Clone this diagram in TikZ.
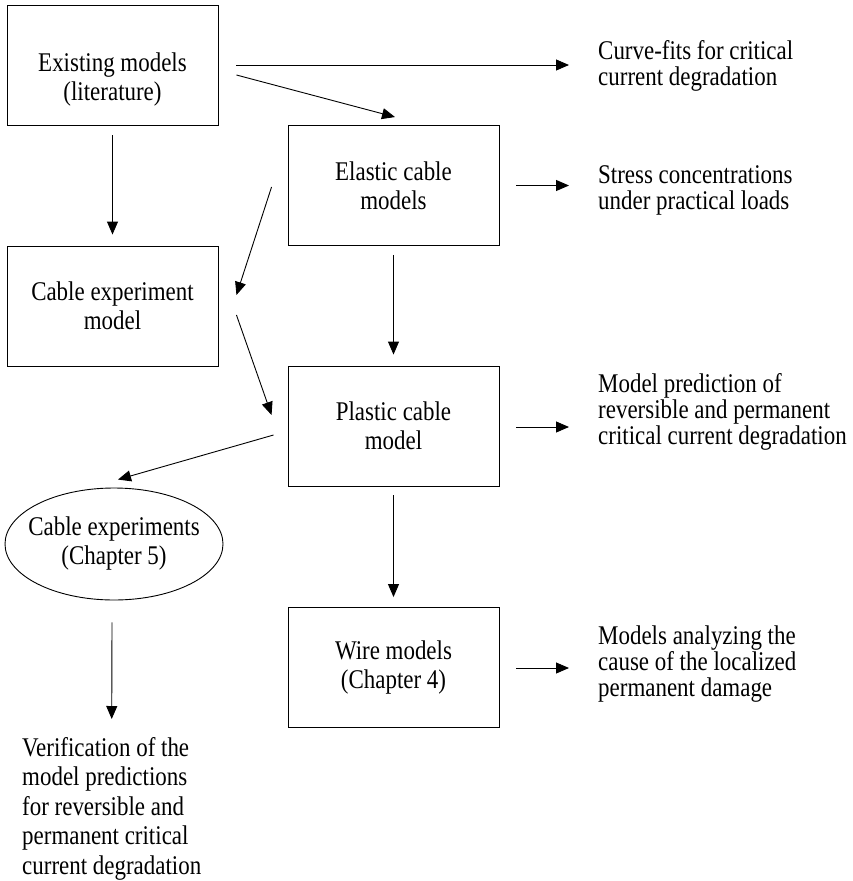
\documentclass[tikz,border=0pt]{standalone}
\usepackage{fontspec}
\setmainfont{Liberation Serif}[FakeStretch=0.85]
\usetikzlibrary{arrows.meta,shapes.geometric}
\begin{document}
\begin{tikzpicture}[x=1pt,y=-1pt,
  box/.style={draw, line width=0.9pt, minimum width=211pt, minimum height=120pt, inner sep=0pt, align=center, font=\fontsize{27}{29}\selectfont},
  oval/.style={ellipse, draw, line width=0.9pt, minimum width=218pt, minimum height=112pt, inner sep=0pt, font=\fontsize{27}{29}\selectfont},
  note/.style={anchor=west, inner sep=0pt, align=left, font=\fontsize{27}{26}\selectfont},
  arr/.style={line width=0.9pt, -{Triangle[length=13pt,width=11pt]}}
]
\useasboundingbox (0,0) rectangle (853,881);

\node[box] (exist) at (112.5,65) {\raisebox{-15pt}[\height][\depth]{\begin{tabular}{@{}c@{}}Existing models\\(literature)\end{tabular}}};
\node[box] (elastic) at (393.5,185.5) {Elastic cable\\models};
\node[box] (cabmod) at (112.5,306) {Cable experiment\\model};
\node[box] (plastic) at (393.5,426) {Plastic cable\\model};
\node[box] (wire) at (393.5,667.5) {Wire models\\(Chapter 4)};
\node[oval] (ell) at (114,544) {\makebox[0pt]{\begin{tabular}{@{}c@{}}Cable experiments\\(Chapter 5)\end{tabular}}};

\node[note] (curve) at (598,66) {Curve-fits for critical\\current degradation};
\node[note] (stress) at (598,190) {Stress concentrations\\under practical loads};
\node[note] (pred) at (598,412) {Model prediction of\\reversible and permanent\\critical current degradation};
\node[note] (cause) at (598,664) {Models analyzing the\\cause of the localized\\permanent damage};
\node[note, anchor=north west, font=\fontsize{27}{29.5}\selectfont] (verif) at (22,737) {Verification of the\\model predictions\\for reversible and\\permanent critical\\current degradation};

\draw[arr] ([shift={(18,0)}]exist.east) -- ([shift={(-29,-1)}]curve.west);
\draw[arr] ([shift={(18,10)}]exist.east) -- ([shift={(1.5,-8)}]elastic.north);
\draw[arr] ([shift={(0,10)}]exist.south) -- ([shift={(0,-11)}]cabmod.north);
\draw[arr] ([shift={(17,0)}]elastic.east) -- ([shift={(-29,-4.5)}]stress.west);
\draw[arr] ([shift={(-16,1.5)}]elastic.west) -- ([shift={(18,-11)}]cabmod.east);
\draw[arr] ([shift={(0,9)}]elastic.south) -- ([shift={(0,-11)}]plastic.north);
\draw[arr] ([shift={(18,9)}]cabmod.east) -- ([shift={(-16,-11)}]plastic.west);
\draw[arr] ([shift={(-14,9)}]plastic.west) -- ([shift={(4,-8)}]ell.north);
\draw[arr] ([shift={(17,1)}]plastic.east) -- ([shift={(-29,15)}]pred.west);
\draw[arr] ([shift={(0,9)}]plastic.south) -- ([shift={(0,-10)}]wire.north);
\draw[arr] ([shift={(17,0.5)}]wire.east) -- ([shift={(-29,4)}]cause.west);
\draw[arr] ([shift={(-2,22)}]ell.south) -- ([shift={(0,-18)}]verif.north);
\end{tikzpicture}
\end{document}
